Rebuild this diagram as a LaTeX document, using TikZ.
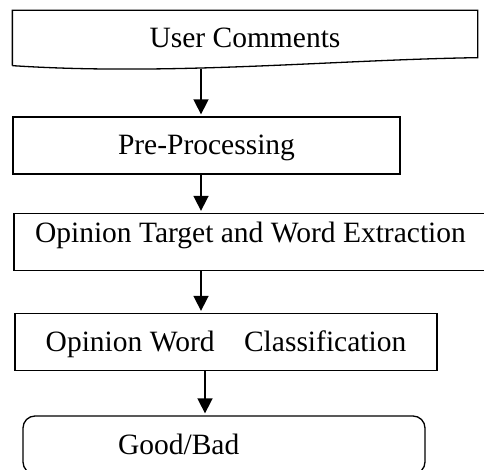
\documentclass[tikz,border=0pt]{standalone}
\usepackage{fontspec}
\setmainfont{Liberation Serif}
\usetikzlibrary{arrows.meta}

\tikzset{
	stage/.style={draw, line width=1.3pt, minimum height=57pt, inner sep=0pt,
		font=\fontsize{29.5}{34}\selectfont, text height=19pt, text depth=0pt},
	flow/.style={-{Triangle[width=15pt, length=15pt]}, line width=1.6pt, shorten >=2pt}
}

\begin{document}
	\begin{tikzpicture}
		\begin{scope}[x=1pt, y=-1pt]
			\useasboundingbox (0,0) rectangle (484,470);

			\node[stage, draw=none, minimum width=464pt, minimum height=54pt] (usr) at (245,38) {User Comments};
			\draw[line width=1.3pt] (usr.south west) -- (usr.north west) -- (usr.north east) -- ([yshift=8pt]usr.south east)
				.. controls (330,60) and (170,76) .. (usr.south west);

			\node[stage, minimum width=387pt] (pre) at (206.5,145.5) {Pre-Processing};
			\node[stage, minimum width=486pt, text width=444pt, align=flush left, inner xsep=21pt, text depth=17pt] (opt) at (257,242) {Opinion Target and Word Extraction};
			\node[stage, minimum width=422pt] (cls) at (226,342) {Opinion Word\quad Classification};
			\node[stage, rounded corners=12pt, minimum width=402pt, minimum height=58pt, text width=212pt, align=flush left, inner xsep=95pt] (res) at (224,445) {Good/Bad};

			\coordinate (spine) at (201,0);
			\coordinate (spine-b) at (205,0);

			\draw[flow, shorten <=3pt] (usr.south -| spine) -- (pre.north -| spine);
			\draw[flow] (pre.south -| spine) -- (opt.north -| spine);
			\draw[flow] (opt.south -| spine) -- (cls.north -| spine);
			\draw[flow] (cls.south -| spine-b) -- (res.north -| spine-b);
		\end{scope}
	\end{tikzpicture}
\end{document}
